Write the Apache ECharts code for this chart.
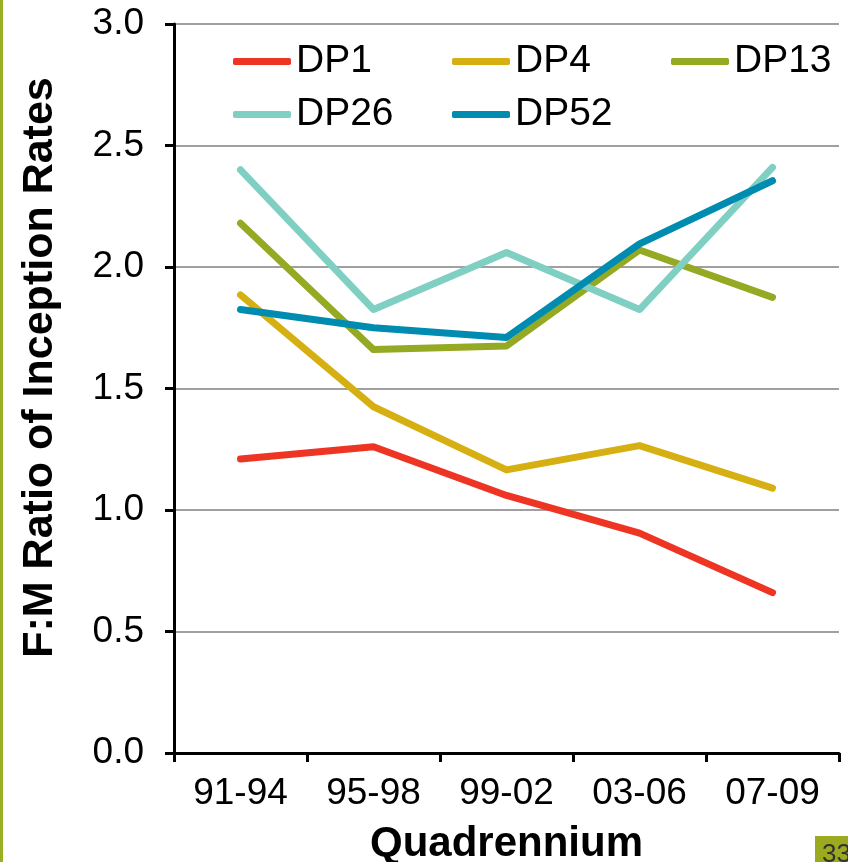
<!DOCTYPE html>
<html>
<head>
<meta charset="utf-8">
<script src="https://cdn.jsdelivr.net/npm/echarts@6/dist/echarts.min.js"></script>
<style>
html,body{margin:0;padding:0;background:#fff;}
#chart{width:848px;height:862px;}
</style>
</head>
<body>
<div id="chart"></div>
<script>
const categories = ['91-94', '95-98', '99-02', '03-06', '07-09'];
const dp1  = [1.21, 1.26, 1.06, 0.905, 0.66];
const dp4  = [1.885, 1.425, 1.165, 1.265, 1.09];
const dp13 = [2.18, 1.66, 1.675, 2.07, 1.875];
const dp26 = [2.40, 1.825, 2.06, 1.825, 2.41];
const dp52 = [1.825, 1.75, 1.71, 2.095, 2.355];
const seriesNames = ['DP1', 'DP4', 'DP13', 'DP26', 'DP52'];
const seriesData = [dp1, dp4, dp13, dp26, dp52];
const colors = ['#EE3524', '#D6B012', '#95A923', '#80CFC3', '#008CB0'];
const yTicks = [0, 0.5, 1.0, 1.5, 2.0, 2.5, 3.0];

const FONT = "'Liberation Sans', Arial, sans-serif";
const chart = echarts.init(document.getElementById('chart'));

const legendPos = [
  {left: 233, top: 42}, {left: 452, top: 42}, {left: 671, top: 42},
  {left: 233, top: 95}, {left: 452, top: 95}
];

const option = {
  animation: false,
  backgroundColor: '#fff',
  grid: {left: 174, right: 9, top: 24, bottom: 109, outerBoundsMode: 'none', containLabel: false},
  legend: seriesNames.map((n, i) => ({
    data: [n],
    left: legendPos[i].left,
    top: legendPos[i].top,
    icon: 'roundRect',
    itemWidth: 58,
    itemHeight: 7,
    padding: 0,
    selectedMode: false,
    textStyle: {fontSize: 39, color: '#000', fontFamily: FONT, padding: [0, 0, 0, 0]}
  })),
  xAxis: {
    type: 'category',
    data: categories,
    boundaryGap: true,
    axisLine: {lineStyle: {color: '#000', width: 3}},
    axisTick: {show: true, length: 9, lineStyle: {color: '#000', width: 3}},
    axisLabel: {fontSize: 37, color: '#000', fontFamily: FONT, margin: 22},
    name: 'Quadrennium',
    nameLocation: 'middle',
    nameGap: 70,
    nameTextStyle: {fontSize: 42, fontWeight: 'bold', color: '#000', fontFamily: FONT}
  },
  yAxis: {
    type: 'value',
    min: 0,
    max: 3,
    interval: 0.5,
    axisLine: {show: true, lineStyle: {color: '#000', width: 3}},
    axisTick: {show: true, length: 9, lineStyle: {color: '#000', width: 3}},
    axisLabel: {fontSize: 37, color: '#000', fontFamily: FONT, margin: 30,
      formatter: v => yTicks.includes(v) ? v.toFixed(1) : ''},
    splitLine: {show: true, lineStyle: {color: '#A0A0A0', width: 2}},
    name: 'F:M Ratio of Inception Rates',
    nameLocation: 'middle',
    nameGap: 112,
    nameTextStyle: {fontSize: 43, fontWeight: 'bold', color: '#000', fontFamily: FONT, padding: [0, 0, 0, 42]}
  },
  series: seriesNames.map((n, i) => ({
    name: n,
    type: 'line',
    data: seriesData[i],
    showSymbol: false,
    symbol: 'none',
    color: colors[i],
    lineStyle: {width: 7, color: colors[i], cap: 'round', join: 'round'}
  })),
  graphic: [
    {type: 'rect', left: 0, top: 0, shape: {width: 3, height: 862}, style: {fill: '#9BAF24'}},
    {type: 'rect', left: 815, top: 836, shape: {width: 40, height: 30}, style: {fill: '#9BAA1E'}},
    {type: 'text', left: 822, top: 842, style: {text: '33', fontSize: 26, fill: '#333', fontFamily: FONT}}
  ]
};
chart.setOption(option);
</script>
</body>
</html>
